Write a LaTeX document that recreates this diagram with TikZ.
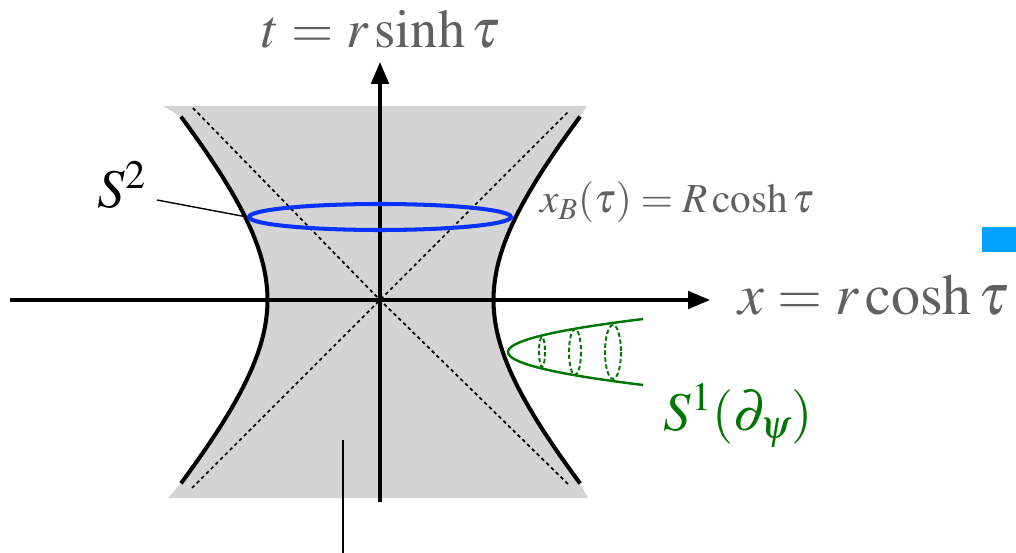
\documentclass[tikz,border=0pt]{standalone}
\usepackage{mathptmx}
\usepackage{tikz}
\usetikzlibrary{arrows.meta,shapes.geometric}
\definecolor{labelgray}{RGB}{96,96,96}
\definecolor{fillgray}{RGB}{212,212,212}
\definecolor{ringblue}{RGB}{10,50,255}
\definecolor{fibgreen}{RGB}{0,118,0}
\definecolor{markblue}{RGB}{0,162,255}
\newcommand{\bigLabel}{\fontsize{31}{37}\selectfont}
\newcommand{\axLabel}{\fontsize{33}{39}\selectfont}
\newcommand{\midLabel}{\fontsize{23.5}{28}\selectfont}

\begin{document}
\begin{tikzpicture}[x=0.02cm,y=-0.02cm,
  axis/.style={line width=1.9pt,-{Triangle[length=12.5pt,width=10pt]}},
  hyp/.style={line width=2.3pt},
  asym/.style={line width=1pt,dash pattern=on 2pt off 1.8pt},
  lead/.style={line width=0.8pt}]
\useasboundingbox (0,0) rectangle (1016,553);
% shaded region between the two branches
\fill[fillgray] (163,106) -- (587,106)
  -- plot[domain=1.17:-1.17,samples=60,variable=\s] ({380.5+113*cosh(\s)},{300-126*sinh(\s)})
  -- (588,498) -- (168,498)
  -- plot[domain=-1.17:1.17,samples=60,variable=\s] ({380.5-113*cosh(\s)},{300-126*sinh(\s)})
  -- cycle;
\coordinate (o) at (380,300);
\draw[asym] (192,488) -- (o) -- (569,111);
\draw[asym] (193,108) -- (o) -- (570,486);
\draw[hyp] plot[domain=-1.17:1.17,samples=60,variable=\s] ({380.5+113*cosh(\s)},{300-126*sinh(\s)});
\draw[hyp] plot[domain=-1.17:1.17,samples=60,variable=\s] ({380.5-113*cosh(\s)},{300-126*sinh(\s)});
% axes
\coordinate (xl) at (10,300);
\coordinate (xr) at (710,300);
\coordinate (tb) at (380,502);
\coordinate (tt) at (380,62);
\draw[axis] (xl) -- (xr);
\draw[axis] (tb) -- (tt);
\node[anchor=base, inner sep=0pt, text=labelgray] (tlab) at (381,48) {\bigLabel$t = r\sinh\tau$};
\node[anchor=base west, inner sep=0pt, text=labelgray] (xlab) at (738,315) {\axLabel$x = r\cosh\tau$};
\node[anchor=base west, inner sep=0pt, text=labelgray] (xb) at (540,213) {\midLabel$x_B(\tau) = R\cosh\tau$};
% sphere
\node[ellipse, draw=ringblue, line width=2.3pt, inner sep=0pt, minimum width=5.24cm, minimum height=0.52cm] (ring) at (380,217) {};
\node[anchor=base west, inner sep=0pt] (s2) at (97,208) {\bigLabel$S^2$};
\draw[lead] (157,200) -- (ring.west);
% circle fibre
\draw[fibgreen, line width=1.4pt] plot[domain=-33:33,samples=40,variable=\u] ({508+0.124*(\u)^2},{352+\u});
\foreach \cx/\rx/\ry in {542/3/15, 575/6/23, 613/8/27}
  \draw[fibgreen, line width=1.1pt, dash pattern=on 2.5pt off 1.5pt] (\cx,352) ellipse [x radius=\rx, y radius=\ry];
\node[anchor=base west, inner sep=0pt, text=fibgreen] (s1) at (663,430) {\bigLabel$S^1(\partial_\psi)$};
% pointer out of the picture
\coordinate (gin) at (343,440);
\coordinate (gout) at (343,553);
\draw[lead] (gin) -- (gout);
\fill[markblue] (982,227) rectangle (1016,252);
\end{tikzpicture}
\end{document}
